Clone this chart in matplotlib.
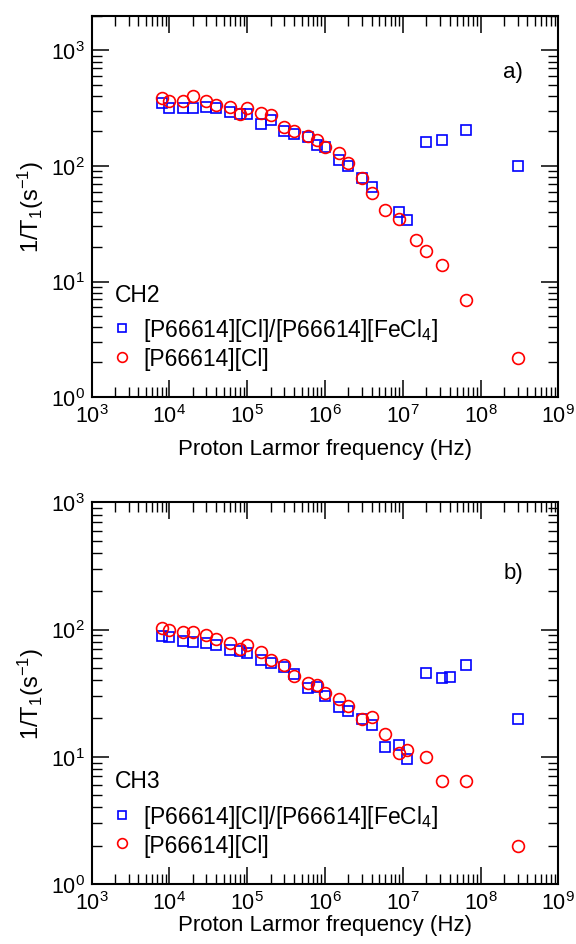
import numpy as np
import matplotlib
matplotlib.use("Agg")
import matplotlib.pyplot as plt
from matplotlib.ticker import FixedLocator, LogLocator, NullFormatter
from matplotlib.lines import Line2D

plt.rcParams['font.family'] = ['Liberation Sans', 'DejaVu Sans']
plt.rcParams['mathtext.fontset'] = 'custom'
plt.rcParams['mathtext.rm'] = 'Liberation Sans'
plt.rcParams['mathtext.it'] = 'Liberation Sans:italic'
plt.rcParams['mathtext.bf'] = 'Liberation Sans:bold'

# ---- Data: panel a) CH2 ----
ch2_mix_f = [8e3, 1e4, 1.5e4, 2e4, 3e4, 4e4, 6e4, 8e4, 1e5, 1.5e5, 2e5, 3e5, 4e5,
             6e5, 8e5, 1e6, 1.5e6, 2e6, 3e6, 4e6, 9e6, 1.15e7, 2e7, 3.2e7, 6.6e7, 3e8]
ch2_mix_r = [354, 318, 318, 318, 327, 318, 294, 284, 284, 233, 248, 200, 191,
             178, 151, 146, 112, 101, 79, 66, 40, 34, 160, 167, 204, 100]
ch2_cl_f = [8e3, 1e4, 1.5e4, 2e4, 3e4, 4e4, 6e4, 8e4, 1e5, 1.5e5, 2e5, 3e5, 4e5,
            6e5, 8e5, 1e6, 1.5e6, 2e6, 3e6, 4e6, 6e6, 9e6, 1.5e7, 2e7, 3.2e7, 6.6e7, 3e8]
ch2_cl_r = [389, 363, 363, 405, 363, 336, 325, 284, 318, 288, 275, 218, 201,
            181, 169, 146, 130, 106, 79, 58, 42, 35, 23, 18.4, 13.8, 6.9, 2.16]

# ---- Data: panel b) CH3 ----
ch3_mix_f = [8e3, 1e4, 1.5e4, 2e4, 3e4, 4e4, 6e4, 8e4, 1e5, 1.5e5, 2e5, 3e5, 4e5,
             6e5, 8e5, 1e6, 1.5e6, 2e6, 3e6, 4e6, 6e6, 9e6, 1.15e7, 2e7, 3.2e7, 4.1e7, 6.6e7, 3e8]
ch3_mix_r = [88.7, 87, 82, 80, 78.6, 76, 68.8, 68.4, 65.6, 57.4, 54.8, 51, 44.4,
             34.9, 35.6, 30.3, 24.6, 22.9, 19.7, 17.7, 11.9, 12.4, 9.55, 45.2, 41.3, 42.6, 52.5, 19.7]
ch3_cl_f = [8e3, 1e4, 1.5e4, 2e4, 3e4, 4e4, 6e4, 8e4, 1e5, 1.5e5, 2e5, 3e5, 4e5,
            6e5, 8e5, 1e6, 1.5e6, 2e6, 3e6, 4e6, 6e6, 9e6, 1.15e7, 2e7, 3.2e7, 6.6e7, 3e8]
ch3_cl_r = [103, 100, 96, 96, 90, 85, 79, 70, 75, 66, 58, 52.5, 43,
            38, 36.4, 31.9, 28.3, 25, 19.7, 20.5, 15, 10.8, 11.3, 10, 6.4, 6.5, 2.0]

# tick decades
x_decades = [1e3, 1e4, 1e5, 1e6, 1e7, 1e8, 1e9]
y_decades_a = [1e0, 1e1, 1e2, 1e3]
y_decades_b = [1e0, 1e1, 1e2, 1e3]

label_mix = '[P66614][Cl]/[P66614][FeCl$_4$]'
label_cl = '[P66614][Cl]'

fig = plt.figure(figsize=(5.76, 9.45), dpi=100)
ax1 = fig.add_axes([0.1589, 0.5788, 0.8104, 0.4035])
ax2 = fig.add_axes([0.1589, 0.0635, 0.8104, 0.4039])

panels = [
    (ax1, ch2_mix_f, ch2_mix_r, ch2_cl_f, ch2_cl_r, 'CH2', 'a)', (1, 2000), 0.855, y_decades_a, 8),
    (ax2, ch3_mix_f, ch3_mix_r, ch3_cl_f, ch3_cl_r, 'CH3', 'b)', (1, 1000), 0.815, y_decades_b, 0),
]

FS = 16.5
for ax, mf, mr, cf, cr, name, tag, ylim, tagy, ydec, xlp in panels:
    ax.plot(mf, mr, ls='none', marker='s', ms=7, mfc='none', mec='#0000ff', mew=1.2)
    ax.plot(cf, cr, ls='none', marker='o', ms=8.5, mfc='none', mec='#ff0000', mew=1.2)
    ax.set_xscale('log')
    ax.set_yscale('log')
    ax.set_xlim(1e3, 1e9)
    ax.set_ylim(*ylim)
    ax.xaxis.set_major_locator(FixedLocator(x_decades))
    ax.yaxis.set_major_locator(FixedLocator(ydec))
    ax.xaxis.set_minor_locator(LogLocator(base=10, subs=np.arange(2, 10), numticks=20))
    ax.yaxis.set_minor_locator(LogLocator(base=10, subs=np.arange(2, 10), numticks=20))
    ax.xaxis.set_minor_formatter(NullFormatter())
    ax.yaxis.set_minor_formatter(NullFormatter())
    ax.tick_params(which='both', direction='in', top=True, right=True, labelsize=15.5)
    ax.tick_params(which='major', length=12, width=1.1)
    ax.tick_params(which='minor', length=7, width=1.0)
    ax.tick_params(axis='x', which='major', pad=5)
    ax.tick_params(axis='y', which='major', pad=5)
    for s in ax.spines.values():
        s.set_linewidth(1.5)
    ax.set_xlabel('Proton Larmor frequency (Hz)', fontsize=16, labelpad=xlp)
    ax.set_ylabel('1/T$_1$(s$^{-1}$)', fontsize=17, labelpad=3)
    ax.text(0.903, tagy, tag, transform=ax.transAxes, fontsize=16, ha='center', va='center')
    ax.text(0.05, 0.27, name, transform=ax.transAxes, fontsize=FS, ha='left', va='center')
    handles = [
        Line2D([], [], ls='none', marker='s', ms=6, mfc='none', mec='#0000ff', mew=1.2),
        Line2D([], [], ls='none', marker='o', ms=7, mfc='none', mec='#ff0000', mew=1.2),
    ]
    ax.legend(handles, [label_mix, label_cl], loc='upper left',
              bbox_to_anchor=(0.040, 0.212), frameon=False, fontsize=FS,
              handlelength=1.0, handletextpad=0.44, labelspacing=0.15,
              borderpad=0, borderaxespad=0)

fig.savefig('out.png', dpi=100)
